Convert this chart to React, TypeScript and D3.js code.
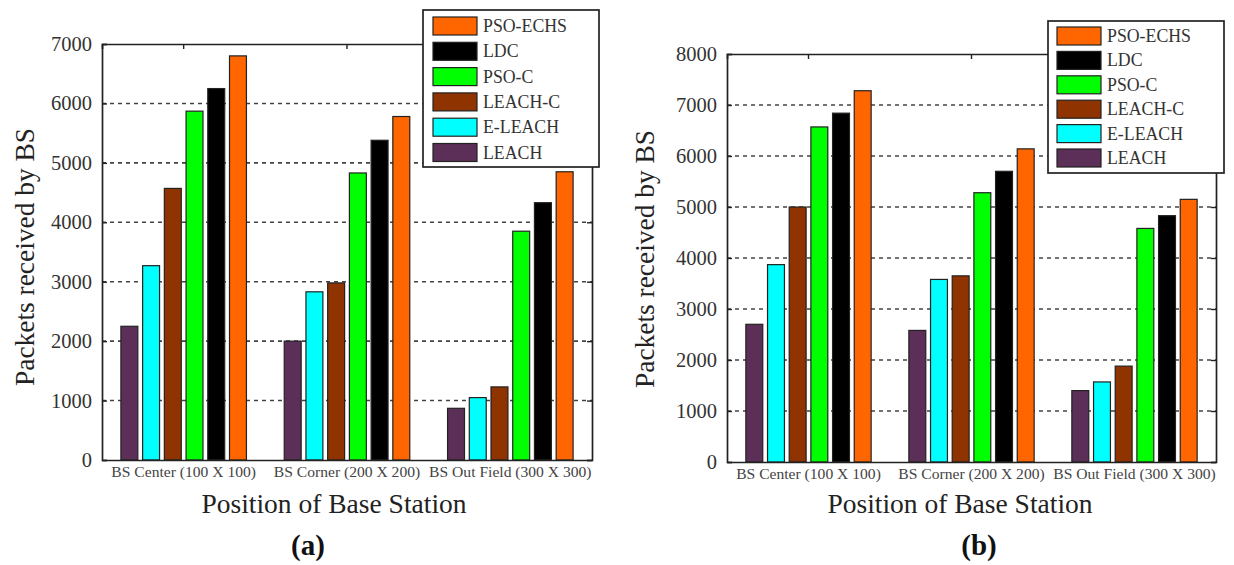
import React, { useEffect, useRef } from 'react';
import * as d3 from 'd3';

// categories / series
const positions = ['BS Center (100 X 100)', 'BS Corner (200 X 200)', 'BS Out Field (300 X 300)'];
const protocols = ['LEACH', 'E-LEACH', 'LEACH-C', 'PSO-C', 'LDC', 'PSO-ECHS'];
const colors = ['#5b2f57', '#00ffff', '#8f3300', '#00ff00', '#000000', '#ff6600'];

// panel (a)
const leachA = [2250, 2000, 870];
const eleachA = [3270, 2830, 1050];
const leachcA = [4570, 2980, 1230];
const psocA = [5870, 4830, 3850];
const ldcA = [6250, 5380, 4330];
const psoechsA = [6800, 5780, 4850];
const ticksA = [0, 1000, 2000, 3000, 4000, 5000, 6000, 7000];

// panel (b)
const leachB = [2700, 2580, 1400];
const eleachB = [3870, 3580, 1570];
const leachcB = [5000, 3650, 1880];
const psocB = [6570, 5280, 4580];
const ldcB = [6840, 5700, 4830];
const psoechsB = [7280, 6140, 5150];
const ticksB = [0, 1000, 2000, 3000, 4000, 5000, 6000, 7000, 8000];

const FONT = '"Liberation Serif", "Times New Roman", serif';

function drawPanel(svg, cfg) {
    const { left, top, right, bottom, series, ticks, legend } = cfg;
    const g = svg.append('g');

    const x0 = d3.scaleBand().domain(positions).range([left, right]).padding(0);
    const x1 = d3
        .scaleBand()
        .domain(protocols)
        .range([0, x0.bandwidth()])
        .paddingInner(0.22)
        .paddingOuter(0.87);
    const y = d3
        .scaleLinear()
        .domain([0, d3.max(ticks)])
        .range([bottom, top]);

    // dotted grid
    g.append('g')
        .selectAll('line')
        .data(ticks.filter((t) => t > 0 && t < d3.max(ticks)))
        .join('line')
        .attr('x1', left)
        .attr('x2', right)
        .attr('y1', (d) => y(d))
        .attr('y2', (d) => y(d))
        .attr('stroke', '#444')
        .attr('stroke-width', 1.6)
        .attr('stroke-dasharray', '4,4');

    // bars
    positions.forEach((p, gi) => {
        g.append('g')
            .selectAll('rect')
            .data(protocols)
            .join('rect')
            .attr('x', (d) => x0(p) + x1(d))
            .attr('width', x1.bandwidth())
            .attr('y', (d, i) => y(series[i][gi]))
            .attr('height', (d, i) => bottom - y(series[i][gi]))
            .attr('fill', (d, i) => colors[i])
            .attr('stroke', '#222')
            .attr('stroke-width', 1.2);
    });

    // axes
    const axL = g.append('g').attr('transform', `translate(${left},0)`)
        .call(d3.axisLeft(y).tickValues(ticks).tickSize(-5).tickPadding(10).tickFormat(d3.format('d')));
    const axR = g.append('g').attr('transform', `translate(${right},0)`)
        .call(d3.axisRight(y).tickValues(ticks).tickSize(-5).tickFormat(() => ''));
    const axB = g.append('g').attr('transform', `translate(0,${bottom})`)
        .call(d3.axisBottom(x0).tickSize(0).tickPadding(6));
    const axT = g.append('g').attr('transform', `translate(0,${top})`)
        .call(d3.axisTop(x0).tickSize(-5).tickFormat(() => ''));

    [axL, axR, axB, axT].forEach((a) => {
        a.select('.domain').attr('stroke', '#222').attr('stroke-width', 1.7);
        a.selectAll('.tick line').attr('stroke', '#222').attr('stroke-width', 1.4);
    });
    axL.selectAll('text')
        .style('font-family', FONT)
        .style('font-size', '20.5px')
        .attr('fill', '#333');
    axB.selectAll('text')
        .style('font-family', FONT)
        .style('font-size', '15.6px')
        .attr('fill', '#444');

    // axis titles
    g.append('text')
        .attr('transform', `translate(${cfg.yLabelX},${cfg.yLabelY}) rotate(-90)`)
        .attr('text-anchor', 'middle')
        .style('font-family', FONT)
        .style('font-size', '27.4px')
        .attr('fill', '#222')
        .text('Packets received by BS');
    g.append('text')
        .attr('x', cfg.xLabelX)
        .attr('y', 513)
        .attr('text-anchor', 'middle')
        .style('font-family', FONT)
        .style('font-size', '27.5px')
        .attr('fill', '#222')
        .text('Position of Base Station');
    g.append('text')
        .attr('x', cfg.letterX)
        .attr('y', 555)
        .attr('text-anchor', 'middle')
        .style('font-family', FONT)
        .style('font-size', '29px')
        .style('font-weight', 'bold')
        .attr('fill', '#111')
        .text(cfg.letter);

    // legend (top entry first)
    const lg = g.append('g');
    lg.append('rect')
        .attr('x', legend.x)
        .attr('y', legend.y)
        .attr('width', legend.w)
        .attr('height', legend.h)
        .attr('fill', '#fff')
        .attr('stroke', '#222')
        .attr('stroke-width', 1.7);
    const order = protocols.slice().reverse();
    const row = lg.selectAll('g.row')
        .data(order)
        .join('g')
        .attr('class', 'row')
        .attr('transform', (d, i) => `translate(${legend.x + legend.pad},${legend.first + i * legend.step})`);
    row.append('rect')
        .attr('x', 0)
        .attr('y', -9)
        .attr('width', 44)
        .attr('height', 18)
        .attr('fill', (d) => colors[protocols.indexOf(d)])
        .attr('stroke', '#222')
        .attr('stroke-width', 1.2);
    row.append('text')
        .attr('x', 50)
        .attr('y', 6)
        .style('font-family', FONT)
        .style('font-size', '17.8px')
        .attr('fill', '#333')
        .text((d) => d);
}

export default function App() {
    const ref = useRef(null);

    useEffect(() => {
        const svg = d3.select(ref.current);
        svg.selectAll('*').remove();
        svg.append('rect').attr('width', 1234).attr('height', 565).attr('fill', '#fff');

        drawPanel(svg, {
            left: 102, top: 44, right: 592, bottom: 460,
            series: [leachA, eleachA, leachcA, psocA, ldcA, psoechsA],
            ticks: ticksA,
            yLabelX: 34, yLabelY: 257, xLabelX: 334, letter: '(a)', letterX: 308,
            legend: { x: 423, y: 10, w: 176, h: 157, pad: 10, first: 26, step: 25.3 },
        });
        drawPanel(svg, {
            left: 727, top: 54, right: 1216, bottom: 462,
            series: [leachB, eleachB, leachcB, psocB, ldcB, psoechsB],
            ticks: ticksB,
            yLabelX: 654, yLabelY: 259, xLabelX: 960, letter: '(b)', letterX: 979,
            legend: { x: 1048, y: 21, w: 176, h: 152, pad: 9, first: 36, step: 24.4 },
        });
    }, []);

    return (
        <svg
            ref={ref}
            width={1234}
            height={565}
            style={{ position: 'absolute', left: 0, top: 0 }}
        />
    );
}
